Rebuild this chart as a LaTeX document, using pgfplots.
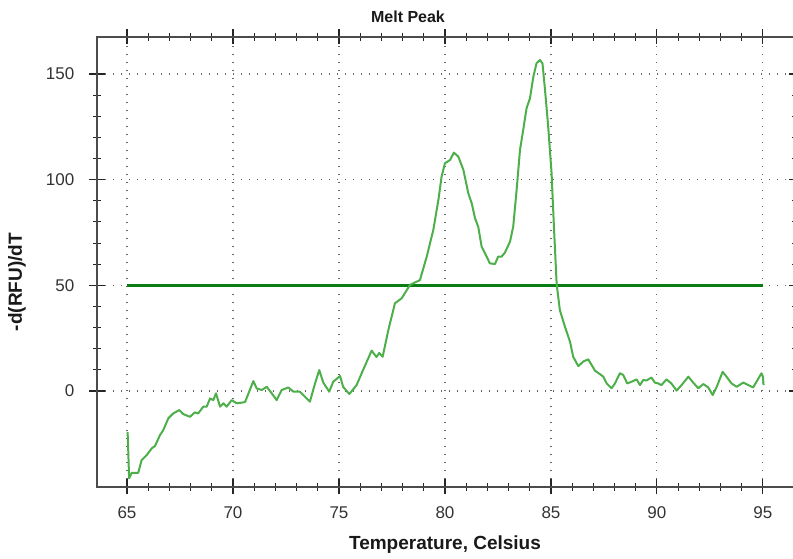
\documentclass[border=0pt]{standalone}
\usepackage{fontspec}
\setmainfont{Liberation Sans}
\usepackage{pgfplots}
\pgfplotsset{compat=1.18}
\definecolor{curvecol}{RGB}{77,175,74}
\definecolor{thrcol}{RGB}{10,125,20}
\begin{document}
\begin{tikzpicture}[x=1pt,y=1pt]
\useasboundingbox (0,0) rectangle (793,559);
\begin{axis}[
  at={(97pt,72pt)}, anchor=south west, scale only axis,
  width=699pt, height=450pt,
  xmin=63.585, xmax=96.56, ymin=-45.4, ymax=167.5,
  xtick={65,70,...,95}, ytick={0,50,100,150},
  minor x tick num=4, minor y tick num=4,
  tick align=center, major tick length=15pt, minor tick length=8pt,
  grid=major,
  major grid style={black!60, line width=1.1pt, dash pattern=on 1.1pt off 6.9pt},
  axis line style={line width=2pt, black!70},
  tick style={black!85, line width=1.1pt},
  ticklabel style={font=\fontsize{17}{17}\selectfont, text=black!80},
  /pgf/number format/assume math mode=true,
  xticklabel style={anchor=north, inner sep=0pt, yshift=-12pt},
  yticklabel style={anchor=east, inner sep=0pt, xshift=-15pt},
]
\addplot[thrcol, line width=3pt] coordinates {(65,50) (95,50)};
\addplot[curvecol, line width=2pt, line join=round] coordinates {
(65.03,-19.3) (65.1,-41.3) (65.22,-38.7) (65.53,-38.7) (65.69,-32.7) (65.93,-30.3)
(66.17,-27.1) (66.32,-26) (66.56,-20.8) (66.71,-18.5) (66.95,-12.9) (67.18,-10.6)
(67.47,-9) (67.65,-10.9) (67.97,-12.2) (68.2,-10.1) (68.36,-10.6) (68.6,-7.4)
(68.76,-7.4) (68.92,-3.5) (69.07,-4.3) (69.2,-1.1) (69.39,-7.4) (69.55,-5.8)
(69.7,-7.4) (69.94,-4.3) (70.18,-5.8) (70.41,-5.5) (70.57,-5.2) (70.96,4.7)
(71.12,1.2) (71.36,0.5) (71.59,2.0) (71.83,-1.1) (72.06,-4.3) (72.3,0.5)
(72.61,1.7) (72.85,-0.3) (73.16,-0.3) (73.63,-5.0) (73.87,3.6) (74.07,9.9)
(74.26,4.0) (74.54,-0.3) (74.73,4.4) (75.05,7.1) (75.2,1.9) (75.49,-1.4)
(75.83,2.8) (76.07,8.4) (76.54,19.1) (76.77,16.1) (76.9,18) (77.06,16.2)
(77.33,28.9) (77.64,41.5) (77.96,43.9) (78.35,50.2) (78.82,52.5) (79.14,63.6)
(79.45,76.2) (79.69,90.4) (79.84,101.4) (80.0,107.8) (80.24,109.3) (80.42,112.8)
(80.63,110.9) (80.87,104.6) (81.1,93.6) (81.26,88.9) (81.42,81.7) (81.57,77.7)
(81.73,68.3) (81.93,64.3) (82.12,60.4) (82.36,60.1) (82.51,63.6) (82.67,63.6)
(82.83,65.5) (83.07,70.7) (83.22,77.8) (83.38,95.1) (83.54,114.1) (83.69,123.5)
(83.85,133.8) (84.01,138.5) (84.17,148.7) (84.32,155.1) (84.48,156.6) (84.6,155)
(84.72,142.5) (84.87,125.1) (85.03,103) (85.14,77.8) (85.27,50.5) (85.42,38.3)
(85.66,30.4) (85.9,23.3) (86.05,16.2) (86.29,11.8) (86.53,14.0) (86.76,15)
(86.92,12.3) (87.08,9.6) (87.31,8) (87.47,6.8) (87.63,3.6) (87.86,1.3)
(88.02,3.6) (88.25,8.4) (88.41,7.6) (88.6,3.6) (88.8,4.4) (89.04,5.5)
(89.2,2.8) (89.35,5.2) (89.51,5.0) (89.74,6.4) (89.9,4.0) (90.06,3.6)
(90.21,2.8) (90.45,5.5) (90.68,3.6) (90.93,0.2) (91.16,2.8) (91.48,6.8)
(91.71,4.0) (91.95,1.3) (92.19,3.3) (92.42,1.7) (92.63,-1.9) (92.82,2.0)
(93.1,9.1) (93.28,6.8) (93.52,3.6) (93.76,2.0) (94.07,4.0) (94.31,2.8)
(94.54,1.7) (94.93,8.4) (95.0,6.8) (95.03,2.8)
};
\end{axis}
\node[font=\bfseries\fontsize{16}{16}\selectfont, text=black!90] at (408,542) {Melt Peak};
\node[font=\bfseries\fontsize{19}{19}\selectfont, text=black!90] at (445,14) {Temperature, Celsius};
\node[rotate=90, font=\bfseries\fontsize{19}{19}\selectfont, text=black!90] at (17,277) {-d(RFU)/dT};
\end{tikzpicture}
\end{document}
